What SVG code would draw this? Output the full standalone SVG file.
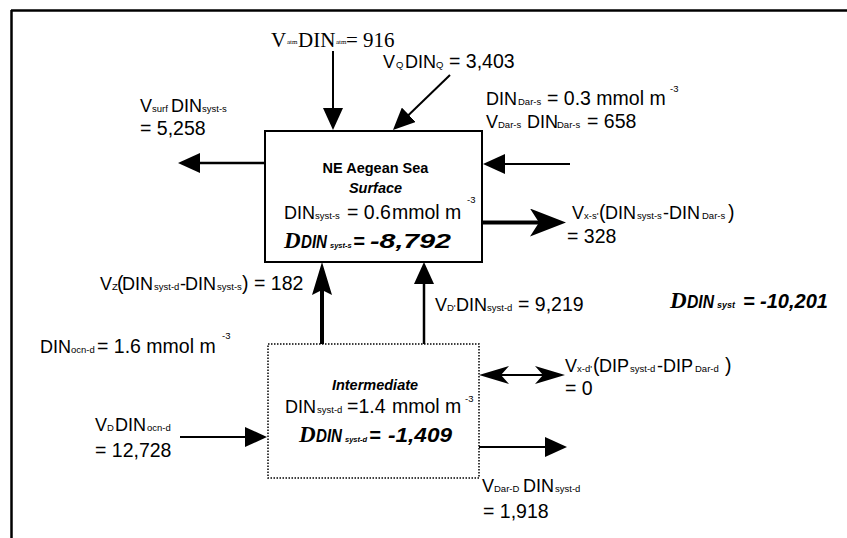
<svg xmlns="http://www.w3.org/2000/svg" width="847" height="538" viewBox="0 0 847 538">
<style>
.a{font-family:"Liberation Sans",Arial,sans-serif;font-size:18px;fill:#000}
.n{font-size:19.5px}
.s{font-size:9.5px}
.t{font-family:"Liberation Serif","Times New Roman",serif;font-size:21px;fill:#000}
.ts{font-size:7px}
.b{font-weight:bold}
.bi{font-weight:bold;font-style:italic}
.dl{font-family:"Liberation Serif","Times New Roman",serif;font-weight:bold;font-style:italic;font-size:23px;fill:#000}
.ln{stroke:#000;fill:none}
</style>
<defs>
<marker id="arr" markerUnits="userSpaceOnUse" viewBox="0 0 22 20" markerWidth="22" markerHeight="20" refX="10" refY="10" orient="auto"><path d="M0,0 L22,10 L0,20 z" fill="#000"/></marker>
<marker id="stl" markerUnits="userSpaceOnUse" viewBox="0 0 36 28" markerWidth="36" markerHeight="28" refX="16" refY="14" orient="auto"><path d="M0,0 L36,14 L0,28 L9,14 z" fill="#000"/></marker>
<marker id="stlv" markerUnits="userSpaceOnUse" viewBox="0 0 33 20" markerWidth="33" markerHeight="20" refX="13" refY="10" orient="auto"><path d="M0,0 L33,10 L0,20 L5,10 z" fill="#000"/></marker>
<marker id="stls" markerUnits="userSpaceOnUse" viewBox="0 0 30 18" markerWidth="30" markerHeight="18" refX="12" refY="9" orient="auto-start-reverse"><path d="M0,0 L30,9 L0,18 L8,9 z" fill="#000"/></marker>
</defs>

<g id="frame">
<line class="ln" x1="11" y1="10.5" x2="847" y2="10.5" stroke-width="2.5"/>
<line class="ln" x1="11.5" y1="10" x2="11.5" y2="538" stroke-width="2.5"/>
</g>

<g id="connectors">
<line class="ln" x1="333" y1="51" x2="333" y2="118" stroke-width="2" marker-end="url(#arr)"/>
<line class="ln" x1="450" y1="75" x2="401.6" y2="121.7" stroke-width="2" marker-end="url(#arr)"/>
<line class="ln" x1="265" y1="163" x2="190" y2="163" stroke-width="2.5" marker-end="url(#arr)"/>
<line class="ln" x1="570" y1="164" x2="495" y2="164" stroke-width="2" marker-end="url(#arr)"/>
<line class="ln" x1="482" y1="222.5" x2="546" y2="222.5" stroke-width="4" marker-end="url(#stl)"/>
<line class="ln" x1="322" y1="344" x2="322" y2="282" stroke-width="4" marker-end="url(#stlv)"/>
<line class="ln" x1="424" y1="344" x2="424" y2="274" stroke-width="2.5" marker-end="url(#arr)"/>
<line class="ln" x1="180" y1="437" x2="255" y2="437" stroke-width="2" marker-end="url(#arr)"/>
<line class="ln" x1="497" y1="375" x2="547" y2="375" stroke-width="2" marker-start="url(#stls)" marker-end="url(#stls)"/>
<line class="ln" x1="479" y1="447" x2="555" y2="447" stroke-width="2" marker-end="url(#arr)"/>
</g>

<g id="surface">
<rect x="265" y="131" width="217" height="131" fill="#fff" stroke="#000" stroke-width="2"/>
<text class="a b" x="375.5" y="173" text-anchor="middle" style="font-size:14.5px">NE Aegean Sea</text>
<text class="a bi" x="375.5" y="193" text-anchor="middle" style="font-size:14.5px">Surface</text>
<text class="a"><tspan x="284" y="219">DIN</tspan><tspan class="s" x="315" y="219">syst-s</tspan><tspan class="n" x="347" y="219">= 0.6</tspan><tspan class="n" x="392" y="219">mmol m</tspan></text>
<text class="a s" x="467" y="203">-3</text>
<text class="dl" x="284" y="248">D</text>
<text class="a bi" x="301" y="248" textLength="26" lengthAdjust="spacingAndGlyphs">DIN</text>
<text class="a bi" x="330" y="248" style="font-size:7.5px">syst-s</text>
<text class="a bi" x="353" y="248" style="font-size:20px">=</text>
<text class="a bi" x="370" y="248" style="font-size:21px" textLength="81" lengthAdjust="spacingAndGlyphs">-8,792</text>
</g>

<g id="intermediate">
<rect x="268" y="344" width="211" height="134" fill="#fff" stroke="#000" stroke-width="1.5" stroke-dasharray="1.5 1.5"/>
<text class="a bi" x="375" y="390" text-anchor="middle" style="font-size:14.5px">Intermediate</text>
<text class="a"><tspan x="285" y="413">DIN</tspan><tspan class="s" x="317" y="413">syst-d</tspan><tspan class="n" x="347" y="413">=1.4</tspan><tspan class="n" x="392" y="413">mmol m</tspan></text>
<text class="a s" x="465" y="402">-3</text>
<text class="dl" x="299" y="442">D</text>
<text class="a bi" x="316" y="442" textLength="26" lengthAdjust="spacingAndGlyphs">DIN</text>
<text class="a bi" x="345" y="442" style="font-size:7.5px">syst-d</text>
<text class="a bi" x="369" y="442" style="font-size:20px">=</text>
<text class="a bi" x="388" y="442" style="font-size:21px" textLength="64" lengthAdjust="spacingAndGlyphs">-1,409</text>
</g>

<g id="labels">
<text class="t"><tspan x="271" y="47">V</tspan><tspan class="ts" x="287" y="44">atm</tspan><tspan x="298" y="47">DIN</tspan><tspan class="ts" x="336" y="44">atm</tspan><tspan x="346" y="47">= 916</tspan></text>
<text class="a"><tspan x="383" y="68">V</tspan><tspan class="s" x="396" y="68">Q</tspan><tspan x="405" y="68">DIN</tspan><tspan class="s" x="436" y="68">Q</tspan><tspan class="n" x="449" y="68">= 3,403</tspan></text>
<text class="a"><tspan x="140" y="112">V</tspan><tspan class="s" x="152" y="112">surf</tspan><tspan x="171" y="112">DIN</tspan><tspan class="s" x="202" y="112">syst-s</tspan></text>
<text class="a n" x="140" y="135">= 5,258</text>
<text class="a"><tspan x="486" y="105">DIN</tspan><tspan class="s" x="518" y="105">Dar-s</tspan><tspan class="n" x="547" y="105">= 0.3 mmol m</tspan></text>
<text class="a s" x="670" y="92">-3</text>
<text class="a"><tspan x="486" y="128">V</tspan><tspan class="s" x="498" y="128">Dar-s</tspan><tspan x="527" y="128">DIN</tspan><tspan class="s" x="557" y="128">Dar-s</tspan><tspan class="n" x="587" y="128">= 658</tspan></text>
<text class="a"><tspan x="572" y="219">V</tspan><tspan class="s" x="584" y="219">x-s'</tspan><tspan class="n" x="599" y="219">(</tspan><tspan x="605" y="219">DIN</tspan><tspan class="s" x="637" y="219">syst-s</tspan><tspan x="663" y="219">-DIN</tspan><tspan class="s" x="702" y="219">Dar-s</tspan><tspan class="n" x="728" y="219">)</tspan></text>
<text class="a n" x="567" y="243">= 328</text>
<text class="a"><tspan x="100" y="290">V</tspan><tspan class="s" x="112" y="290">Z</tspan><tspan class="n" x="117" y="290">(</tspan><tspan x="122" y="290">DIN</tspan><tspan class="s" x="154" y="290">syst-d</tspan><tspan x="180" y="290">-</tspan><tspan x="185" y="290">DIN</tspan><tspan class="s" x="217" y="290">syst-s</tspan><tspan class="n" x="242" y="290">)</tspan><tspan class="n" x="254" y="290">= 182</tspan></text>
<text class="a"><tspan x="435" y="311">V</tspan><tspan class="s" x="447" y="311">D'</tspan><tspan x="456" y="311">DIN</tspan><tspan class="s" x="487" y="311">syst-d</tspan><tspan class="n" x="518" y="311">= 9,219</tspan></text>
<text class="dl" x="670" y="308">D</text>
<text class="a bi" x="687" y="308" textLength="27" lengthAdjust="spacingAndGlyphs">DIN</text>
<text class="a bi" x="717" y="308" style="font-size:9px">syst</text>
<text class="a bi" x="743" y="308" style="font-size:20px">=</text>
<text class="a bi" x="760" y="308" style="font-size:21px" textLength="68" lengthAdjust="spacingAndGlyphs">-10,201</text>
<text class="a"><tspan x="40" y="353">DIN</tspan><tspan class="s" x="71" y="353">ocn-d</tspan><tspan class="n" x="97" y="353">= 1.6 mmol m</tspan></text>
<text class="a s" x="222" y="339">-3</text>
<text class="a"><tspan x="565" y="372">V</tspan><tspan class="s" x="577" y="372">x-d'</tspan><tspan class="n" x="593" y="372">(</tspan><tspan x="599" y="372">DIP</tspan><tspan class="s" x="630" y="372">syst-d</tspan><tspan x="657" y="372">-DIP</tspan><tspan class="s" x="695" y="372">Dar-d</tspan><tspan class="n" x="725" y="372">)</tspan></text>
<text class="a n" x="565" y="395">= 0</text>
<text class="a"><tspan x="95" y="431">V</tspan><tspan class="s" x="107" y="431">D</tspan><tspan x="115" y="431">DIN</tspan><tspan class="s" x="147" y="431">ocn-d</tspan></text>
<text class="a n" x="95" y="457">= 12,728</text>
<text class="a"><tspan x="482" y="492">V</tspan><tspan class="s" x="494" y="492">Dar-D</tspan><tspan x="523" y="492">DIN</tspan><tspan class="s" x="555" y="492">syst-d</tspan></text>
<text class="a n" x="483" y="518">= 1,918</text>
</g>
</svg>
